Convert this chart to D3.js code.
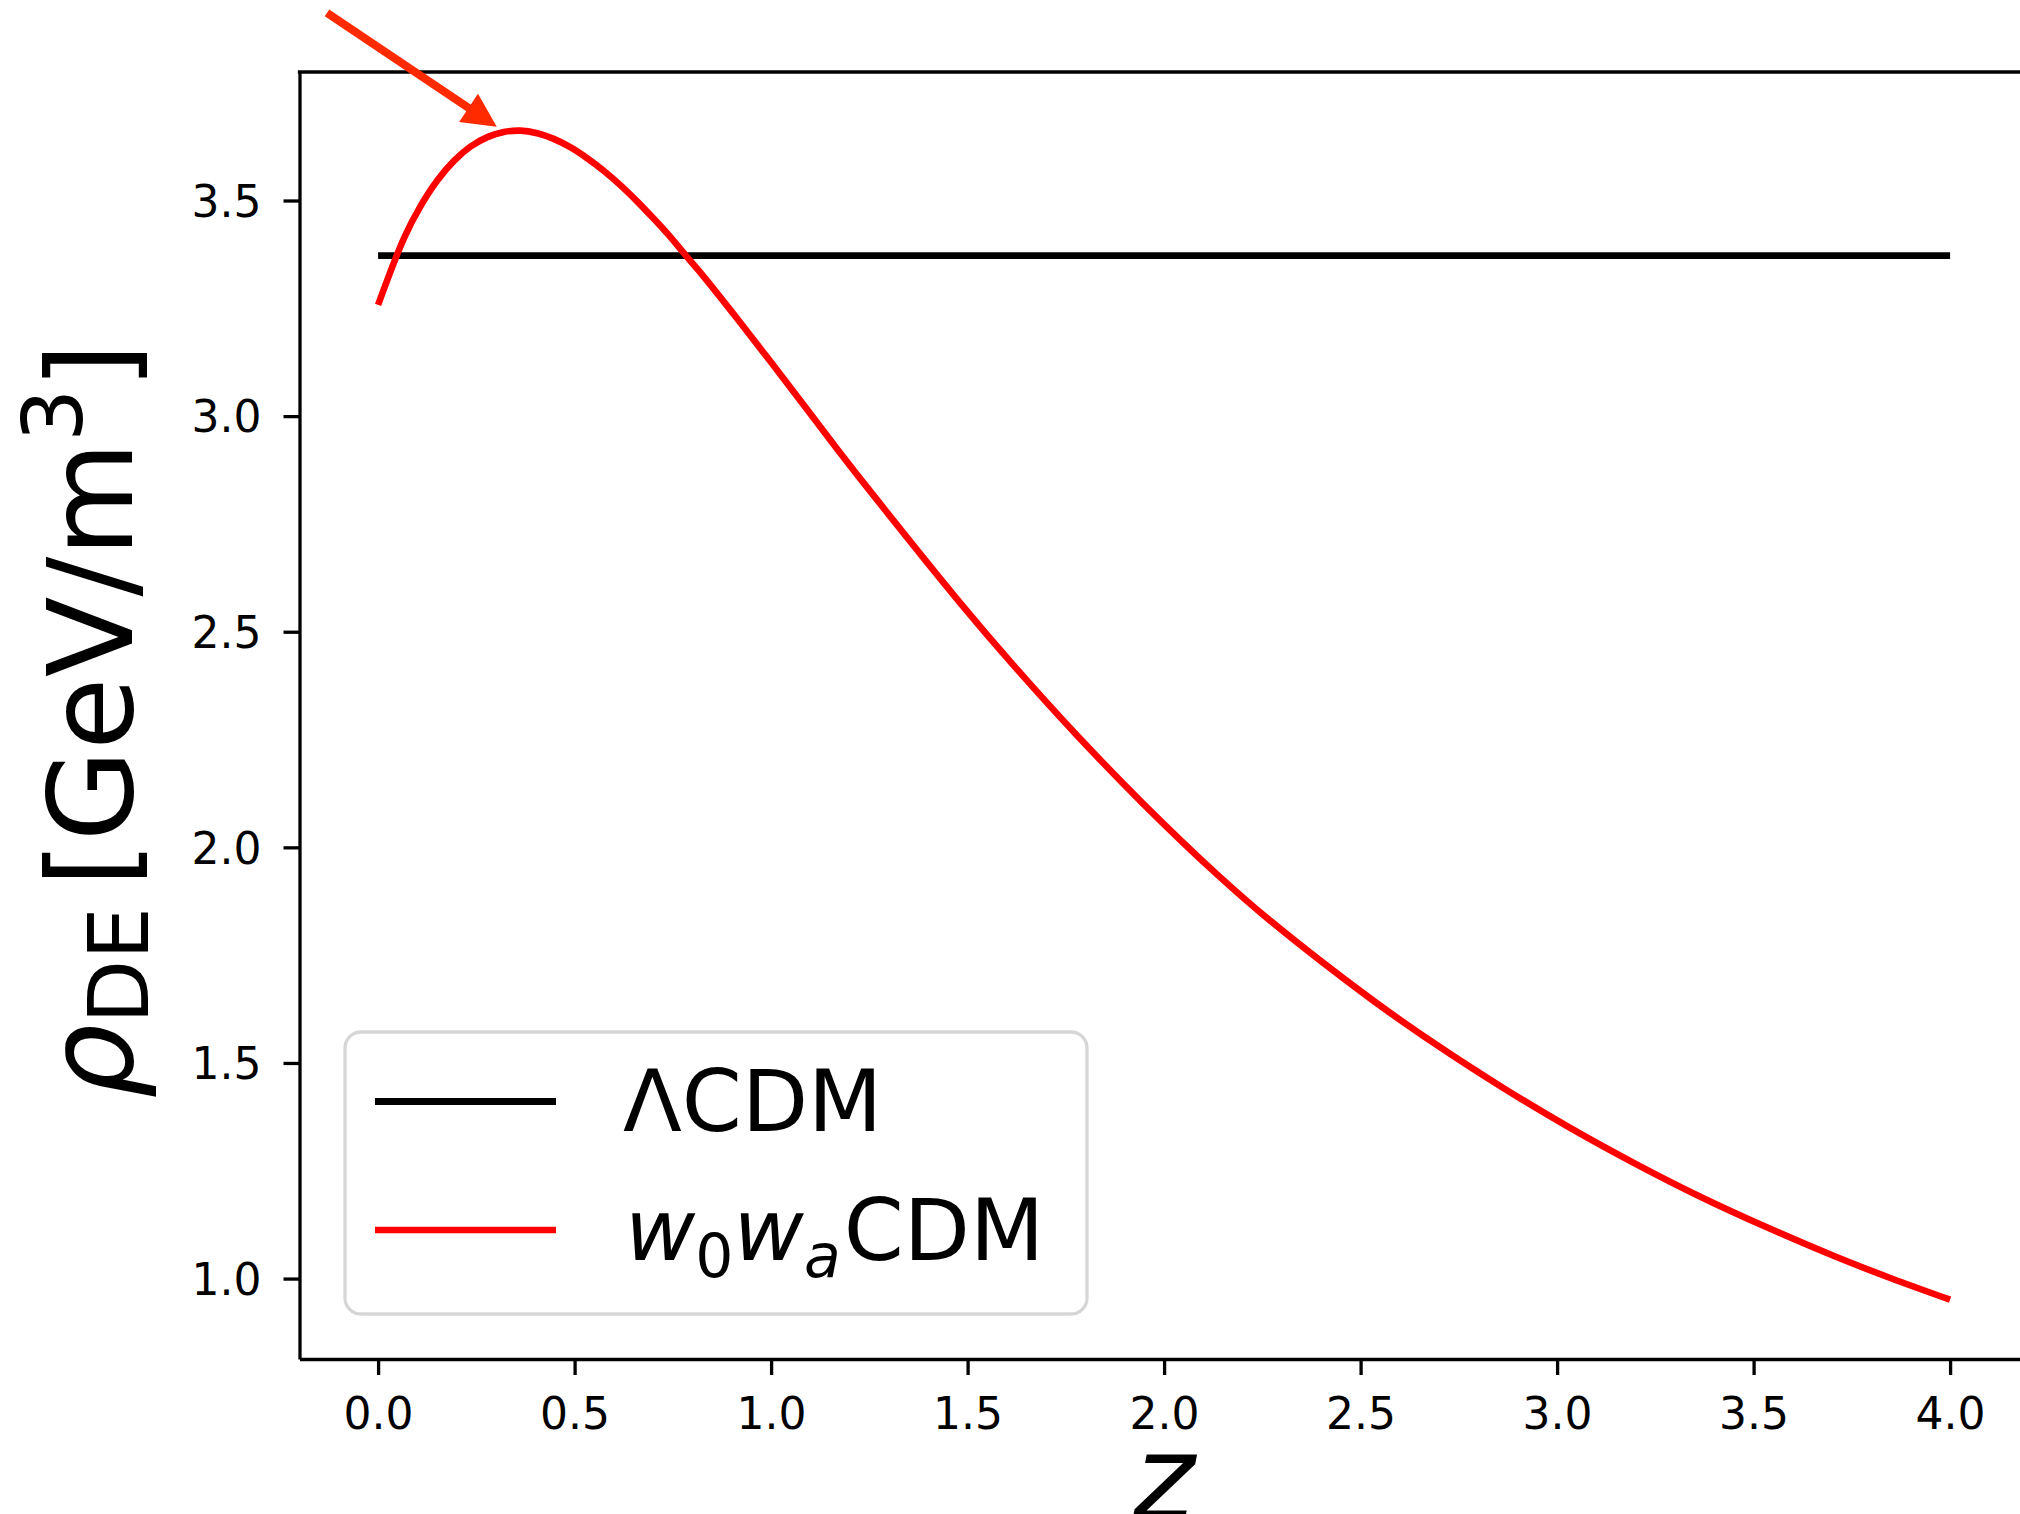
<!DOCTYPE html>
<html><head><meta charset="utf-8">
<script src="https://cdn.jsdelivr.net/npm/d3@7"></script>
<style>html,body{margin:0;padding:0;background:#fff;} svg{display:block;}</style>
</head><body>
<svg id="chart" width="2020" height="1514"></svg>
<script>
// ---------- data ----------
const zLCDM = [0, 4];
const rhoLCDM = [3.372, 3.372];
const zW0Wa = [0.000, 0.066, 0.108, 0.151, 0.193, 0.235, 0.278, 0.320, 0.362, 0.405,
  0.447, 0.490, 0.532, 0.574, 0.617, 0.659, 0.701, 0.744, 0.786, 0.829,
  0.913, 0.998, 1.083, 1.168, 1.252, 1.481, 1.617, 1.778, 1.947, 2.134,
  2.270, 2.524, 2.693, 2.863, 3.032, 3.202, 3.371, 3.541, 3.711, 3.846, 4.000];
const rhoW0Wa = [3.258, 3.413, 3.487, 3.547, 3.592, 3.625, 3.647, 3.659, 3.662, 3.656,
  3.643, 3.623, 3.598, 3.569, 3.535, 3.498, 3.458, 3.415, 3.369, 3.323,
  3.227, 3.127, 3.026, 2.924, 2.826, 2.567, 2.422, 2.260, 2.101, 1.938,
  1.830, 1.650, 1.542, 1.442, 1.350, 1.265, 1.187, 1.116, 1.050, 1.002, 0.951];
const xTickValues = [0.0, 0.5, 1.0, 1.5, 2.0, 2.5, 3.0, 3.5, 4.0];
const yTickValues = [1.0, 1.5, 2.0, 2.5, 3.0, 3.5];
const arrowZ = [-0.13, 0.302];
const arrowRho = [3.935, 3.671];
const xDomain = [-0.2, 4.2];
const yDomain = [0.8135, 3.798];

// ---------- layout ----------
const svg = d3.select("#chart");
svg.append("rect").attr("width", 2020).attr("height", 1514).attr("fill", "#fff");
const L = 299.5, T = 72, B = 1359, R = 299.5 + 4.4 * 393;
const x = d3.scaleLinear().domain(xDomain).range([L, R]);
const y = d3.scaleLinear().domain(yDomain).range([B, T]);
const FONT = "'DejaVu Sans', sans-serif";
const SW = 3.3;

svg.append("defs").append("clipPath").attr("id", "plotclip")
  .append("rect").attr("x", L).attr("y", T).attr("width", R - L).attr("height", B - T);

const plot = svg.append("g").attr("clip-path", "url(#plotclip)");

const lineGen = d3.line().x(d => x(d[0])).y(d => y(d[1]));
plot.append("path")
  .datum(zLCDM.map((z, i) => [z, rhoLCDM[i]]))
  .attr("d", lineGen).attr("fill", "none").attr("stroke", "#000").attr("stroke-width", 6.8);
plot.append("path")
  .datum(zW0Wa.map((z, i) => [z, rhoW0Wa[i]]))
  .attr("d", lineGen.curve(d3.curveCatmullRom.alpha(0.5)))
  .attr("fill", "none").attr("stroke", "#ff0000").attr("stroke-width", 6.6);

// ---------- axes ----------
const fmt = d3.format(".1f");
const xAxis = svg.append("g").attr("transform", `translate(0,${B})`)
  .call(d3.axisBottom(x).tickValues(xTickValues).tickFormat(fmt).tickSize(16).tickSizeOuter(0));
const yAxis = svg.append("g").attr("transform", `translate(${L},0)`)
  .call(d3.axisLeft(y).tickValues(yTickValues).tickFormat(fmt).tickSize(16).tickSizeOuter(0));
[xAxis, yAxis].forEach(g => {
  g.select(".domain").attr("stroke", "#000").attr("stroke-width", SW);
  g.selectAll(".tick line").attr("stroke", "#000").attr("stroke-width", SW);
  g.selectAll(".tick text").attr("fill", "#000")
    .style("font-family", FONT).style("font-size", "44px");
});
xAxis.selectAll(".tick text").attr("y", 70).attr("dy", null);
yAxis.selectAll(".tick text").attr("x", -38).attr("dy", "0.36em");

// top spine
svg.append("line").attr("x1", L - SW / 2).attr("x2", R).attr("y1", T).attr("y2", T)
  .attr("stroke", "#000").attr("stroke-width", SW);

// ---------- axis labels ----------
const ylab = svg.append("text")
  .attr("transform", "translate(132,343) rotate(-90)")
  .attr("text-anchor", "end")
  .style("font-family", FONT).style("font-size", "118px").attr("fill", "#000");
ylab.append("tspan").style("font-style", "italic").text("ρ");
ylab.append("tspan").style("font-size", "83px").attr("dy", 16).text("DE");
ylab.append("tspan").attr("dy", -16).attr("dx", 20).text("[GeV/m");
ylab.append("tspan").style("font-size", "83px").attr("dy", -50).text("3");
ylab.append("tspan").attr("dy", 50).text("]");

svg.append("text").attr("x", (L + R) / 2).attr("y", 1519).attr("text-anchor", "middle")
  .style("font-family", FONT).style("font-size", "118px").style("font-style", "italic")
  .attr("fill", "#000").text("z");

// ---------- legend ----------
const lg = svg.append("g");
lg.append("rect").attr("x", 345).attr("y", 1032).attr("width", 742).attr("height", 282)
  .attr("rx", 16).attr("fill", "#fff").attr("stroke", "#d6d6d6").attr("stroke-width", 3.3);
lg.append("line").attr("x1", 375).attr("x2", 556).attr("y1", 1101.5).attr("y2", 1101.5)
  .attr("stroke", "#000").attr("stroke-width", 6.8);
lg.append("line").attr("x1", 375).attr("x2", 556).attr("y1", 1230).attr("y2", 1230)
  .attr("stroke", "#ff0000").attr("stroke-width", 6.6);
lg.append("text").attr("x", 623).attr("y", 1131)
  .style("font-family", FONT).style("font-size", "86px").attr("fill", "#000").text("ΛCDM");
const t2 = lg.append("text").attr("x", 625).attr("y", 1260)
  .style("font-family", FONT).style("font-size", "86px").attr("fill", "#000");
t2.append("tspan").style("font-style", "italic").text("w");
t2.append("tspan").style("font-size", "60px").attr("dy", 17).text("0");
t2.append("tspan").style("font-style", "italic").attr("dy", -17).text("w");
t2.append("tspan").style("font-size", "60px").style("font-style", "italic").attr("dy", 17).text("a");
t2.append("tspan").attr("dy", -17).attr("dx", 3).text("CDM");

// ---------- annotation arrow ----------
const p0 = [x(arrowZ[0]), y(arrowRho[0])];
const p1 = [x(arrowZ[1]), y(arrowRho[1])];
const dx = p1[0] - p0[0], dy = p1[1] - p0[1];
const len = Math.hypot(dx, dy);
const ux = dx / len, uy = dy / len, nx = -uy, ny = ux;
const headL = 34, headW = 34, shaftW = 8;
const bx = p1[0] - ux * headL, by = p1[1] - uy * headL;
const pts = [
  [p0[0] + nx * shaftW / 2, p0[1] + ny * shaftW / 2],
  [bx + nx * shaftW / 2, by + ny * shaftW / 2],
  [bx + nx * headW / 2, by + ny * headW / 2],
  p1,
  [bx - nx * headW / 2, by - ny * headW / 2],
  [bx - nx * shaftW / 2, by - ny * shaftW / 2],
  [p0[0] - nx * shaftW / 2, p0[1] - ny * shaftW / 2]
];
svg.append("path").attr("d", d3.line()(pts) + "Z").attr("fill", "#ff2a00").attr("stroke", "none");
</script>
</body></html>
